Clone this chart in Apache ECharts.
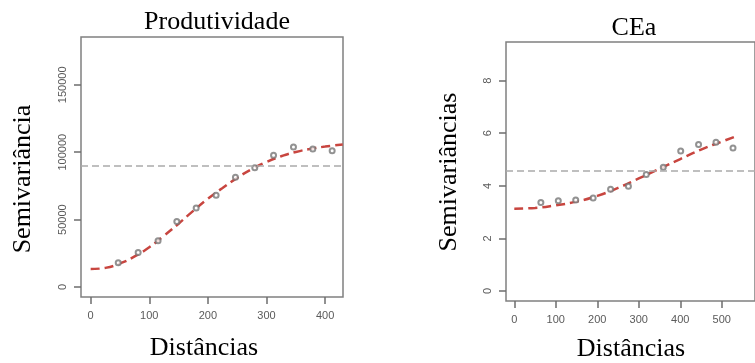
<!DOCTYPE html>
<html><head><meta charset="utf-8">
<script src="https://cdn.jsdelivr.net/npm/echarts@6/dist/echarts.min.js"></script>
<style>html,body{margin:0;padding:0;background:#fff}#c{width:755px;height:363px}</style>
</head><body><div id="c"></div>
<script>
// Produtividade (left panel)
const prodDist = [47, 81, 115, 147, 180, 214, 247, 280, 312, 346, 379, 412];
const prodGamma = [18000, 25700, 34300, 48700, 58600, 68000, 81400, 88500, 97700, 103900, 102400, 101100];
const prodModelDist = [0, 25, 50, 75, 100, 125, 150, 175, 200, 225, 250, 275, 300, 325, 350, 375, 400, 430];
const prodModelGamma = [13300, 14200, 17500, 22700, 29500, 38000, 47000, 56500, 65500, 73500, 81000, 87500, 92800, 97000, 100200, 102500, 104200, 105800];
const prodSill = 89800;
const prodXTicks = [0, 100, 200, 300, 400];
const prodYTicks = [0, 50000, 100000, 150000];

// CEa (right panel)
const ceaDist = [64, 106, 148, 190, 232, 275, 318, 359, 401, 444, 486, 527];
const ceaGamma = [3.37, 3.43, 3.46, 3.54, 3.87, 3.98, 4.43, 4.71, 5.32, 5.57, 5.66, 5.44];
const ceaModelDist = [0, 50, 100, 150, 200, 250, 300, 350, 400, 450, 500, 540];
const ceaModelGamma = [3.13, 3.16, 3.26, 3.40, 3.62, 3.92, 4.28, 4.65, 5.02, 5.38, 5.68, 5.92];
const ceaSill = 4.57;
const ceaXTicks = [0, 100, 200, 300, 400, 500];
const ceaYTicks = [0, 2, 4, 6, 8];

const serif = '"Liberation Serif", "Times New Roman", serif';
const sans = '"Liberation Sans", Arial, sans-serif';
const boxColor = '#808080';
const tickColor = '#6e6e6e';
const labColor = '#5a5a5a';
const red = '#c8453f';

function xAxisCfg(idx, min, max, ticks) {
  return {
    type: 'value', gridIndex: idx, min: min, max: max,
    splitLine: {show: false},
    axisLine: {show: false, onZero: false},
    axisTick: {show: true, inside: false, length: 7, customValues: ticks, lineStyle: {color: tickColor, width: 1.5}},
    axisLabel: {show: true, customValues: ticks, margin: 13, color: labColor, fontFamily: sans, fontSize: 11,
      formatter: v => String(v)}
  };
}
function yAxisCfg(idx, min, max, ticks) {
  return {
    type: 'value', gridIndex: idx, min: min, max: max,
    splitLine: {show: false},
    axisLine: {show: false, onZero: false},
    axisTick: {show: true, inside: false, length: 7, customValues: ticks, lineStyle: {color: tickColor, width: 1.5}},
    axisLabel: {show: true, customValues: ticks, margin: 13, rotate: 90, color: labColor, fontFamily: sans, fontSize: 11,
      formatter: v => String(v)}
  };
}
function zip(a, b) { return a.map((v, i) => [v, b[i]]); }

const chart = echarts.init(document.getElementById('c'), null, {renderer: 'canvas'});
chart.setOption({
  animation: false,
  backgroundColor: '#fff',
  title: [
    {text: 'Produtividade', left: 212, top: 4, textAlign: 'center', textStyle: {fontFamily: serif, fontSize: 26, fontWeight: 'normal', color: '#000'}},
    {text: 'CEa', left: 629, top: 10, textAlign: 'center', textStyle: {fontFamily: serif, fontSize: 26, fontWeight: 'normal', color: '#000'}}
  ],
  graphic: [
    {type: 'text', x: 204, y: 335, style: {text: 'Distâncias', font: '26px ' + serif, fill: '#000', textAlign: 'center'}},
    {type: 'text', x: 631, y: 336, style: {text: 'Distâncias', font: '26px ' + serif, fill: '#000', textAlign: 'center'}},
    {type: 'text', x: 10, y: 179, rotation: Math.PI / 2, style: {text: 'Semivariância', font: '26px ' + serif, fill: '#000', textAlign: 'center', textVerticalAlign: 'top'}},
    {type: 'text', x: 436, y: 172, rotation: Math.PI / 2, style: {text: 'Semivariâncias', font: '26px ' + serif, fill: '#000', textAlign: 'center', textVerticalAlign: 'top'}}
  ],
  grid: [
    {left: 81, top: 37, width: 262, height: 260, show: true, borderColor: boxColor, borderWidth: 1.5, backgroundColor: 'transparent'},
    {left: 506, top: 42, width: 272, height: 259, show: true, borderColor: boxColor, borderWidth: 1.5, backgroundColor: 'transparent'}
  ],
  xAxis: [xAxisCfg(0, -16.5, 430.5, prodXTicks), xAxisCfg(1, -20, 580, ceaXTicks)],
  yAxis: [yAxisCfg(0, -7400, 185500, prodYTicks), yAxisCfg(1, -0.38, 9.47, ceaYTicks)],
  series: [
    {type: 'line', xAxisIndex: 0, yAxisIndex: 0, data: zip(prodModelDist, prodModelGamma), smooth: true, showSymbol: false, symbol: 'none',
     lineStyle: {color: red, width: 2.5, type: [9, 5]}, z: 3,
     markLine: {silent: true, symbol: 'none', label: {show: false}, lineStyle: {color: '#aaaaaa', width: 1.5, type: [7, 4]}, data: [{yAxis: prodSill}]}},
    {type: 'scatter', xAxisIndex: 0, yAxisIndex: 0, data: zip(prodDist, prodGamma), symbol: 'emptyCircle', symbolSize: 5,
     itemStyle: {color: '#777777', borderColor: '#777777', borderWidth: 0.9}, z: 4},
    {type: 'line', xAxisIndex: 1, yAxisIndex: 1, data: zip(ceaModelDist, ceaModelGamma), smooth: true, showSymbol: false, symbol: 'none',
     lineStyle: {color: red, width: 2.5, type: [9, 5]}, z: 3,
     markLine: {silent: true, symbol: 'none', label: {show: false}, lineStyle: {color: '#aaaaaa', width: 1.5, type: [7, 4]}, data: [{yAxis: ceaSill}]}},
    {type: 'scatter', xAxisIndex: 1, yAxisIndex: 1, data: zip(ceaDist, ceaGamma), symbol: 'emptyCircle', symbolSize: 5,
     itemStyle: {color: '#777777', borderColor: '#777777', borderWidth: 0.9}, z: 4}
  ]
});
</script>
</body></html>
